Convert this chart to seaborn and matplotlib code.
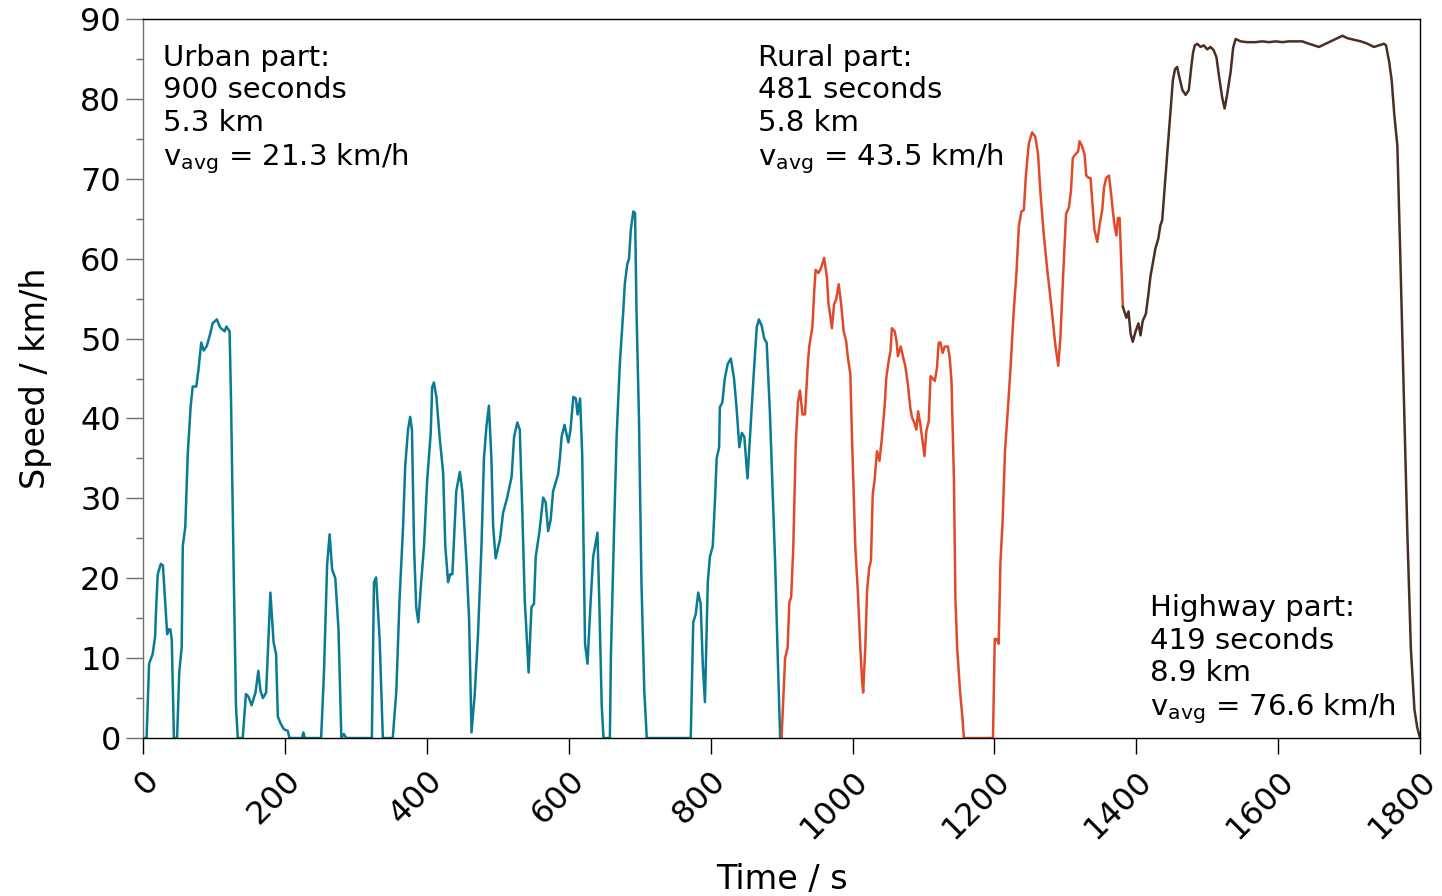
import pandas as pd
import matplotlib.pyplot as plt
import seaborn as sns

# Driving cycle speed trace, split in three parts
urban_t = [0, 5, 8.5, 13.5, 17, 18.5, 20.7, 25, 28, 31, 34, 36, 38.5, 40.5, 43.5, 48, 51, 54.5, 56, 59.5,
           63, 67, 70, 75, 78, 82, 85.5, 90, 95, 98, 104, 108.5, 115, 117.5, 122, 124, 128, 131, 133.5, 140.5,
           145, 148.5, 153, 158.5, 162.5, 165.5, 169, 173.5, 179.5, 184, 187.5, 190, 194, 198.5, 204, 206.5, 224, 226, 228, 251,
           255, 259.5, 263, 266.5, 271, 275.5, 279.5, 283, 286.5, 322.5, 325.5, 328.5, 333.5, 338, 352, 357, 361.5, 366.5, 369.5, 373.5,
           376.5, 379, 382, 385, 388, 392, 396, 400.5, 405.5, 407.5, 410, 413.5, 418, 423, 426, 430, 433, 436, 441.5, 446.5,
           450, 456, 459.5, 463, 467.5, 472, 477, 480.5, 484, 487.5, 491, 493.5, 497, 503, 507.5, 513, 519.5, 523, 527.5, 531,
           534.5, 538, 543.5, 547.5, 551, 553.5, 558.5, 564, 567.5, 571, 574.5, 578, 585, 587.5, 590, 594, 599.5, 602.5, 606.5, 610,
           612.5, 616, 619, 623, 626.5, 631, 634.5, 640.5, 643, 646.5, 649, 658, 659.5, 664, 667.5, 672, 677, 679, 682.5, 685,
           687.5, 691, 693.5, 695.5, 699, 702.5, 706.5, 710, 772, 775.5, 779, 782.5, 786, 789, 792, 796, 799, 803, 806, 808.5,
           812, 813, 816.5, 820, 824, 828.5, 833, 836.5, 840.5, 844, 847.5, 852, 855.5, 861, 865, 868, 872, 875.5, 879, 883.5,
           887, 891, 894.5, 898, 900]
urban_v = [0, 0, 9.3, 10.5, 12.7, 16.4, 20.5, 21.8, 21.6, 17.3, 13, 13.6, 13.6, 12.3, 0, 0, 8.2, 11.4, 24, 26.4,
           35.5, 41.4, 44, 44, 46, 49.5, 48.5, 49.1, 50.7, 51.9, 52.4, 51.4, 50.9, 51.5, 50.9, 42.3, 19.5, 4, 0, 0,
           5.5, 5.2, 4.1, 5.7, 8.4, 5.9, 5, 5.7, 18.2, 12, 10.5, 2.7, 1.8, 1.1, 0.9, 0, 0, 0.7, 0, 0,
           8.2, 21.8, 25.5, 21.1, 20, 13.6, 0, 0.5, 0, 0, 19.5, 20.1, 12.3, 0, 0, 5.9, 17.3, 26.4, 34, 38.6,
           40.2, 38.6, 24, 16.4, 14.5, 19.5, 24, 32.3, 38.2, 43.9, 44.5, 42.7, 37.7, 33.2, 24, 19.5, 20.5, 20.5, 30.9, 33.3,
           30.9, 21.8, 15, 0.7, 5.5, 12.7, 24, 35, 39, 41.6, 35, 26.4, 22.5, 24.8, 28.2, 30, 32.7, 37.7, 39.5, 38.6,
           28.6, 17.3, 8.2, 16.4, 16.8, 22.7, 25.7, 30.1, 29.5, 25.9, 27.3, 30.9, 33, 35, 37.7, 39.2, 37, 38.6, 42.7, 42.5,
           40.5, 42.5, 35.5, 11.8, 9.3, 17.3, 22.7, 25.7, 17.3, 4.1, 0, 0, 10.5, 26.4, 37.7, 46.8, 53.6, 56.8, 59.3, 60,
           63.6, 65.9, 65.7, 53.6, 40, 19.5, 5.9, 0, 0, 14.5, 15.5, 18.2, 16.8, 9.1, 4.5, 19.5, 22.7, 24, 29.5, 35,
           36.4, 41.4, 42, 45, 46.8, 47.5, 45, 41.4, 36.4, 38.2, 37.7, 32.5, 37.7, 45.9, 51.4, 52.4, 51.6, 50, 49.5, 40.9,
           31.8, 21.8, 10.5, 0, 0]

rural_t = [900, 905, 908.5, 911, 913.5, 916.5, 920, 923, 926, 929.5, 933, 937, 939, 943.5, 946, 948, 952, 955.5, 960, 964,
           966, 971, 974, 977, 980.5, 984, 987.5, 991, 993.5, 997, 999, 1001.5, 1004, 1007.5, 1011, 1013.5, 1015, 1018, 1020.5, 1023.5,
           1026, 1028.5, 1031, 1034.5, 1038, 1041.5, 1045.5, 1047.5, 1051, 1053.5, 1055.5, 1059.5, 1062, 1064, 1068, 1071, 1074.5, 1078, 1081.5, 1084,
           1087, 1090, 1092.5, 1095.5, 1098, 1101.5, 1104, 1107.5, 1110, 1112, 1116, 1119, 1121.5, 1124, 1127, 1130, 1134.5, 1137, 1139.5, 1143,
           1145, 1147.5, 1151.5, 1154.5, 1157, 1198, 1200.5, 1203, 1206, 1208.5, 1211.5, 1215, 1218.5, 1222.5, 1227, 1231, 1234.5, 1238, 1241.5, 1244.5,
           1248.5, 1253, 1257.5, 1261.5, 1265, 1269.5, 1274.5, 1279, 1282.5, 1286, 1290, 1293, 1297, 1301, 1305, 1308, 1310.5, 1314.5, 1318, 1320,
           1323.5, 1327, 1329.5, 1333, 1335.5, 1338, 1341, 1345, 1348, 1352, 1354.5, 1357.5, 1361.5, 1364.5, 1367, 1369.5, 1372, 1374, 1376.5, 1379,
           1381]
rural_v = [0, 10, 11.3, 17, 17.6, 23.8, 36.8, 42, 43.5, 40.5, 40.5, 46.8, 49, 51.5, 55.9, 58.6, 58.2, 58.8, 60.1, 57.6,
           54.5, 51.3, 54.3, 54.9, 56.8, 54.3, 50.9, 49.7, 47.6, 45.5, 38.4, 30.9, 23.8, 18.4, 11.3, 7.2, 5.7, 11.3, 18.4, 21.3,
           22.2, 30.5, 32.2, 35.9, 34.7, 37.6, 41.8, 45, 47.2, 48.4, 51.3, 50.9, 49.7, 47.8, 49, 47.8, 46.5, 44.3, 41.3, 40.1,
           39.5, 38.6, 40.9, 39.3, 37.6, 35.3, 38.4, 39.7, 45.3, 45.1, 44.7, 46.3, 49.5, 49.5, 48.2, 49, 49, 47.6, 44.7, 32.2,
           17.6, 11.3, 5.9, 3, 0, 0, 12.4, 12.4, 11.8, 22, 27, 36, 40.5, 46, 53.1, 58.1, 64.1, 65.9, 66.1, 70.6,
           74.4, 75.8, 75.3, 73.1, 68.1, 63.1, 58.6, 55.1, 52.1, 49.1, 46.6, 50.1, 58.1, 65.6, 66.4, 68.6, 72.6, 73.1, 73.4, 74.7,
           74.1, 73.1, 70.4, 70.1, 70.1, 67.1, 63.6, 62.1, 64.1, 66.1, 68.9, 70.1, 70.4, 68.1, 65.9, 64.1, 62.9, 65.1, 65.1, 59.1,
           54]

highway_t = [1381, 1386, 1389, 1392, 1395, 1399, 1403, 1406, 1409, 1413.5, 1417, 1420, 1423, 1427, 1431, 1434, 1436.5, 1440, 1443.5, 1448,
             1451.5, 1454.5, 1457.5, 1461, 1465, 1469.5, 1474, 1477.5, 1480, 1482.5, 1486, 1490.5, 1495, 1500, 1504.5, 1509, 1513, 1516.5, 1521, 1524.5,
             1528, 1533, 1536.5, 1540, 1547, 1556, 1568, 1577.5, 1587, 1596.5, 1606, 1615, 1624.5, 1634, 1643.5, 1650.5, 1657.5, 1664.5, 1674, 1683.5,
             1690.5, 1697.5, 1707, 1716.5, 1726, 1735, 1742, 1749, 1752, 1756.5, 1760, 1763.5, 1768, 1772, 1777, 1782, 1787, 1792, 1796, 1800]
highway_v = [54, 52.6, 53.4, 50.6, 49.6, 50.9, 51.9, 50.4, 52.2, 53.1, 55.5, 57.8, 59.3, 61.3, 62.5, 64.2, 64.8, 68.9, 73, 78.2,
             82.3, 83.7, 84, 82.6, 81.1, 80.5, 81.1, 84, 85.8, 86.7, 86.9, 86.5, 86.7, 86.2, 86.5, 86.1, 85.2, 82.9, 80.2, 78.8,
             80.5, 83.4, 86.4, 87.5, 87.2, 87.1, 87.1, 87.2, 87.1, 87.2, 87.1, 87.2, 87.2, 87.2, 86.9, 86.7, 86.5, 86.8, 87.2, 87.6,
             87.9, 87.6, 87.4, 87.2, 86.9, 86.5, 86.7, 86.9, 86.7, 84.6, 82.3, 78.2, 74.1, 60.7, 43.2, 25.8, 11.2, 3.6, 1.3, 0]

parts = ["Urban", "Rural", "Highway"]
colors = ["#0a7b93", "#e04a2b", "#4b2e25"]
x_ticks = list(range(0, 1801, 200))

df = pd.concat([
    pd.DataFrame({"t": urban_t, "v": urban_v, "part": "Urban"}),
    pd.DataFrame({"t": rural_t, "v": rural_v, "part": "Rural"}),
    pd.DataFrame({"t": highway_t, "v": highway_v, "part": "Highway"}),
])

sns.set_style("ticks", {"text.color": "black", "axes.labelcolor": "black",
                        "xtick.color": "black", "ytick.color": "black",
                        "axes.edgecolor": "black"})
plt.rcParams["font.family"] = ["DejaVu Sans"]
plt.rcParams["mathtext.default"] = "regular"

fig = plt.figure(figsize=(14.42, 8.96), dpi=100)
ax = fig.add_axes([0.0992, 0.1763, 0.8856, 0.8025])
sns.lineplot(data=df, x="t", y="v", hue="part", hue_order=parts,
             palette=dict(zip(parts, colors)), estimator=None, sort=False,
             legend=False, linewidth=1.8, ax=ax)

ax.set_xlim(0, 1800)
ax.set_ylim(0, 90)
ax.set_xticks(x_ticks)
ax.set_xticklabels([str(x) for x in x_ticks], rotation=45, ha="right",
                   va="top", rotation_mode="anchor")
ax.set_yticks(range(0, 91, 10))
ax.set_yticks(range(5, 90, 10), minor=True)
ax.tick_params(axis="y", which="major", length=12, width=1, labelsize=23,
               color="#707070", labelcolor="black", pad=4)
ax.tick_params(axis="y", which="minor", length=5, width=1, color="#707070")
ax.tick_params(axis="x", which="major", length=11.5, width=1, labelsize=23, pad=8)

for s in ax.spines.values():
    s.set_visible(True)
    s.set_linewidth(1)
ax.spines["left"].set_color("#707070")

ax.set_xlabel("Time / s", fontsize=24, labelpad=13)
ax.set_ylabel("Speed / km/h", fontsize=24, labelpad=20)

txt = dict(fontsize=21, va="top", ha="left", linespacing=1.2)
ax.text(28, 86.9, "Urban part:\n900 seconds\n5.3 km\nv$_{avg}$ = 21.3 km/h", **txt)
ax.text(867, 86.9, "Rural part:\n481 seconds\n5.8 km\nv$_{avg}$ = 43.5 km/h", **txt)
ax.text(1420, 18.0, "Highway part:\n419 seconds\n8.9 km\nv$_{avg}$ = 76.6 km/h", **txt)

plt.savefig("out.png", dpi=100)
